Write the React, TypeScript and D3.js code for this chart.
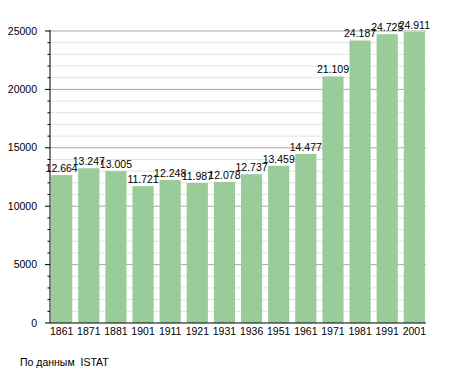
import * as d3 from 'd3'

const WIDTH = 455
const HEIGHT = 373

const YEARS = ['1861', '1871', '1881', '1901', '1911', '1921', '1931', '1936', '1951', '1961', '1971', '1981', '1991', '2001']
const POPULATION = [12664, 13247, 13005, 11721, 12248, 11987, 12078, 12737, 13459, 14477, 21109, 24187, 24725, 24911]
const MAJOR_TICKS = [0, 5000, 10000, 15000, 20000, 25000]
const SOURCE_NOTE = 'По данным  ISTAT'

const FONT = '"Liberation Sans", Arial, sans-serif'

export default function App() {
  const left = 50
  const right = 426
  const top = 31
  const bottom = 323

  const x = d3.scaleBand().domain(YEARS).range([left, right]).paddingInner(0.22).paddingOuter(0.04)
  const y = d3.scaleLinear().domain([0, 25000]).range([bottom, top])

  const minorTicks = d3.range(0, 25001, 1000).filter((v) => v % 5000 !== 0)
  // thousands separated with a dot, as in the original
  const fmt = (v: number) => d3.format(',')(v).replace(',', '.')

  return (
    <svg width={WIDTH} height={HEIGHT} style={{ position: 'absolute', left: 0, top: 0, background: '#fff' }} fontFamily={FONT}>
      {minorTicks.map((v) => (
        <g key={'m' + v}>
          <line x1={left} x2={right} y1={y(v)} y2={y(v)} stroke="#e2e2e2" strokeWidth={1} />
          <line x1={left - 2.5} x2={left} y1={y(v)} y2={y(v)} stroke="#000" strokeWidth={1} />
        </g>
      ))}
      {MAJOR_TICKS.map((v) => (
        <g key={'M' + v}>
          {v > 0 && <line x1={left} x2={right} y1={y(v)} y2={y(v)} stroke="#a8a8a8" strokeWidth={1} />}
          <line x1={left - 5} x2={left} y1={y(v)} y2={y(v)} stroke="#000" strokeWidth={1} />
          <text x={37} y={y(v)} dy="0.35em" textAnchor="end" fontSize={10.5} fill="#000">
            {v}
          </text>
        </g>
      ))}
      {YEARS.map((yr, i) => (
        <g key={yr}>
          <rect x={x(yr)} y={y(POPULATION[i])} width={x.bandwidth()} height={bottom - y(POPULATION[i])} fill="#99cc99" />
          <text x={(x(yr) ?? 0) + x.bandwidth() / 2} y={y(POPULATION[i]) - 3} textAnchor="middle" fontSize={10.5} fill="#000">
            {fmt(POPULATION[i])}
          </text>
          <text x={(x(yr) ?? 0) + x.bandwidth() / 2} y={331} dy="0.35em" textAnchor="middle" fontSize={10.5} fill="#000">
            {yr}
          </text>
        </g>
      ))}
      <line x1={left} x2={left} y1={top - 1} y2={bottom} stroke="#000" strokeWidth={1} />
      <line x1={left} x2={right} y1={bottom} y2={bottom} stroke="#000" strokeWidth={1} />
      <text x={20} y={362} dy="0.35em" fontSize={10.5} fill="#000" style={{ whiteSpace: 'pre' }}>
        {SOURCE_NOTE}
      </text>
    </svg>
  )
}
